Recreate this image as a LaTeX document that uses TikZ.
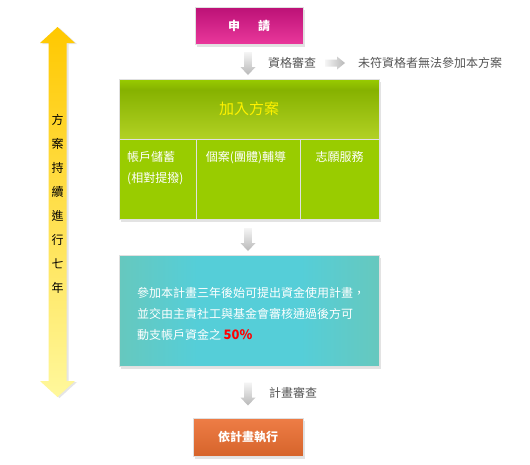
\documentclass[tikz,border=0pt]{standalone}
\usepackage{fontspec}
\setmainfont{Noto Sans CJK TC}
\usepackage{tikz}
\usetikzlibrary{positioning,calc,shadows}
\definecolor{applytop}{HTML}{BC1176}
\definecolor{applybot}{HTML}{EA389C}
\definecolor{jointop}{HTML}{86B200}
\definecolor{joinbot}{HTML}{B2D124}
\definecolor{joingreen}{HTML}{99CC00}
\definecolor{ruleside}{HTML}{66C8BE}
\definecolor{rulemid}{HTML}{55CED8}
\definecolor{exectop}{HTML}{EE7D46}
\definecolor{execbot}{HTML}{D6642B}
\definecolor{yeartop}{HTML}{FFC800}
\definecolor{yearbot}{HTML}{FFF89C}
\definecolor{notegray}{HTML}{555555}
\pgfdeclareverticalshading{joinshade}{100bp}{color(0bp)=(joinbot); color(25bp)=(joinbot);
  color(66bp)=(jointop); color(75bp)=(joingreen); color(100bp)=(joingreen)}
\pgfdeclarehorizontalshading{ruleshade}{100bp}{color(0bp)=(ruleside); color(25bp)=(ruleside);
  color(40bp)=(rulemid); color(60bp)=(rulemid); color(75bp)=(ruleside); color(100bp)=(ruleside)}

\begin{document}
\begin{tikzpicture}[x=1pt, y=-1pt,
      box/.style={rectangle, inner sep=0pt, draw=black!12, line width=0.6pt,
                  font=\fontsize{12}{14}\selectfont\bfseries, text=white,
                  drop shadow={opacity=0.22, shadow xshift=2pt, shadow yshift=-2.5pt}},
      col/.style={rectangle, inner sep=0pt, fill=joingreen, draw=black!12,
                  line width=0.6pt, minimum height=80pt},
      coltext/.style={font=\fontsize{12}{21}\selectfont, text=white, inner sep=0pt},
      t/.style={font=\fontsize{12}{14}\selectfont, text=notegray, inner sep=0pt},
      downarrow/.pic={
        \path[top color=black!4, bottom color=black!28]
          (-3.8,-11.5) -- (3.8,-11.5) -- (3.8,3.5) -- (7.5,3.5) -- (0,11.5)
          -- (-7.5,3.5) -- (-3.8,3.5) -- cycle;},
      sidearrow/.pic={
        \path[left color=black!4, right color=black!28]
          (-10,-3.5) -- (2,-3.5) -- (2,-6.5) -- (10,0) -- (2,6.5) -- (2,3.5)
          -- (-10,3.5) -- cycle;}]
    \path[use as bounding box, fill=white] (0,0) rectangle (530,464);

    % seven years, left side
    \path[top color=yeartop, bottom color=yearbot,
          drop shadow={opacity=0.2, shadow xshift=2pt, shadow yshift=-1pt}]
      (57.5,27) -- (75,43) -- (66.5,43) -- (66.5,381) -- (75,381) -- (57.5,397)
      -- (40,381) -- (48.5,381) -- (48.5,43) -- (40,43) -- cycle;
    \node[font=\fontsize{12}{24}\selectfont, align=center, inner sep=0pt] (years)
      at (57.5,204) {方\\案\\持\\續\\進\\行\\七\\年};

    % apply and check
    \node[box, minimum width=108pt, minimum height=37pt,
          top color=applytop, bottom color=applybot] (apply) at (249,26) {申\hspace{1.5em}請};
    \pic at (248,63.5) {downarrow};
    \node[t, anchor=west] (check) at (268,63) {資格審查};
    \pic at (335,63) {sidearrow};
    \node[t, anchor=west] (reject) at (358,63) {未符資格者無法參加本方案};

    % join the programme
    \path[fill=joingreen, drop shadow={opacity=0.22, shadow xshift=2pt, shadow yshift=-2.5pt}]
      (119,79) rectangle (379,219);
    \node[rectangle, inner sep=0pt, minimum width=260pt, minimum height=60pt,
          shading=joinshade, draw=black!12, line width=0.6pt,
          font=\fontsize{15}{17}\selectfont, text=yellow] (join) at (249,109) {加入方案};
    \node[col, minimum width=77pt] (save) at (157.5,179) {};
    \node[col, minimum width=104pt] (counsel) at (248,179) {};
    \node[col, minimum width=79pt] (volunteer) at (339.5,179) {};
    \node[coltext, anchor=north west, align=left] (savetext) at (127,151) {帳戶儲蓄\\(相對提撥)};
    \node[coltext, anchor=north] (counseltext) at (246,151) {個案(團體)輔導};
    \node[coltext, anchor=north] (volunteertext) at (339.5,151) {志願服務};

    % use of funds
    \pic at (248,239.5) {downarrow};
    \node[box, minimum width=260pt, minimum height=111pt, shading=ruleshade] (rule) at (249,310.5) {};
    \node[coltext, align=left] (ruletext) at (251,314)
      {參加本計畫三年後始可提出資金使用計畫，\\並交由主責社工與基金會審核通過後方可\\
       動支帳戶資金之 {\fontsize{13}{15}\selectfont\bfseries\color{red}50\%}};

    % review and execute
    \pic at (248,394) {downarrow};
    \node[t, anchor=west] (review) at (269,393) {計畫審查};
    \node[box, minimum width=110pt, minimum height=38pt,
          top color=exectop, bottom color=execbot] (execute) at (248,437) {依計畫執行};
  \end{tikzpicture}
\end{document}
